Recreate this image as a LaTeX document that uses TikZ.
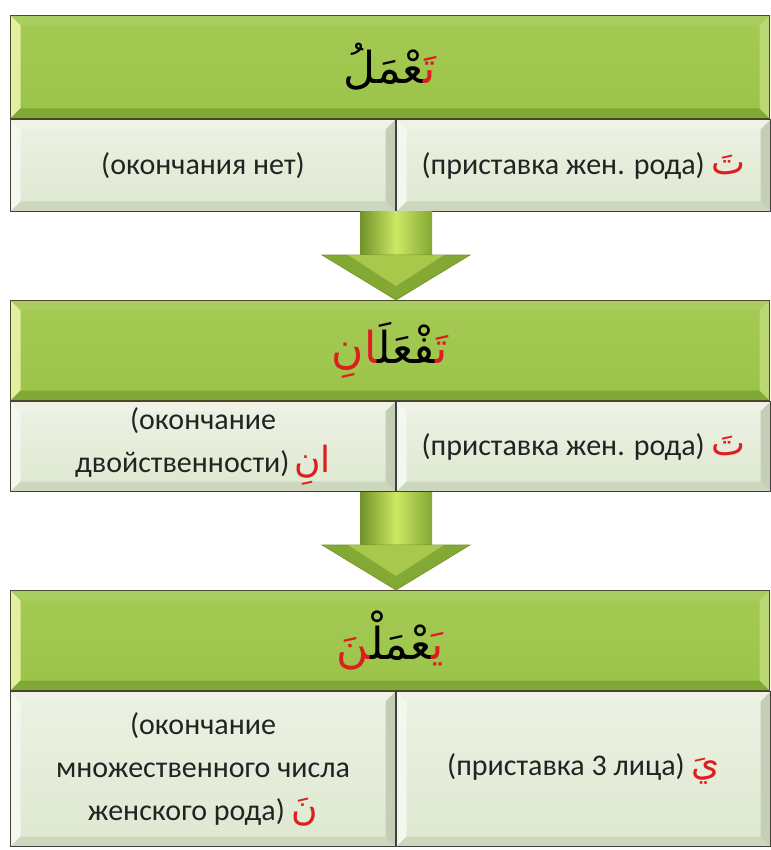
\documentclass[tikz,border=0pt]{standalone}
\usepackage{fontspec}
\setmainfont{Carlito}
\newfontfamily\arabicfont[Script=Arabic]{DejaVu Sans}
\usepackage{tikz}
\usetikzlibrary{calc}
\usetikzlibrary{positioning}
\definecolor{hdGreen}{RGB}{155,195,72}
\definecolor{hdGreenTop}{RGB}{165,202,85}
\definecolor{hdEdgeL}{RGB}{226,238,160}
\definecolor{hdEdgeT}{RGB}{170,205,95}
\definecolor{hdEdgeB}{RGB}{128,168,52}
\definecolor{hdEdgeR}{RGB}{185,215,115}
\definecolor{clFill}{RGB}{222,232,208}
\definecolor{clFillTop}{RGB}{236,242,228}
\definecolor{clEdgeL}{RGB}{244,247,238}
\definecolor{clEdgeT}{RGB}{238,243,230}
\definecolor{clEdgeB}{RGB}{205,215,190}
\definecolor{clEdgeR}{RGB}{196,206,182}
\definecolor{arGreen}{RGB}{132,168,52}
\definecolor{arGreenDk}{RGB}{112,146,40}
\definecolor{arGreenLt}{RGB}{205,232,100}
\definecolor{arRed}{RGB}{222,30,30}
\definecolor{txGray}{RGB}{35,35,35}
\newcommand{\headColor}{hdGreen}
\newcommand{\cellColor}{clFill}
\newcommand{\bevelW}{10}
\newcommand{\zwj}{^^^^200d}
\newcommand{\ar}[1]{{\arabicfont #1}}
\newcommand{\redar}[1]{{\arabicfont\color{arRed}#1}}
\newcommand{\redsm}[1]{{\arabicfont\fontsize{36}{43}\selectfont\color{arRed}#1}}
\tikzset{
    bevel/.style n args = {4}{path picture={
        \coordinate (pnw) at (path picture bounding box.north west);
        \coordinate (pse) at (path picture bounding box.south east);
        \coordinate (pne) at (pnw -| pse);
        \coordinate (psw) at (pnw |- pse);
        \fill[#1] (pnw) -- (pne) -- ($(pne)+(-\bevelW,\bevelW)$) -- ($(pnw)+(\bevelW,\bevelW)$) -- cycle;
        \fill[#2] (pnw) -- (psw) -- ($(psw)+(\bevelW,-\bevelW)$) -- ($(pnw)+(\bevelW,\bevelW)$) -- cycle;
        \fill[#3] (psw) -- (pse) -- ($(pse)+(-\bevelW,-\bevelW)$) -- ($(psw)+(\bevelW,-\bevelW)$) -- cycle;
        \fill[#4] (pne) -- (pse) -- ($(pse)+(-\bevelW,-\bevelW)$) -- ($(pne)+(-\bevelW,\bevelW)$) -- cycle;
    }},
    headbox/.style = {draw=black!60!olive, line width=1pt, top color=hdGreenTop, bottom color=\headColor,
        minimum width=759, minimum height=#1, inner sep=0pt, anchor=north west,
        font=\fontsize{44}{52}\selectfont, text=black,
        bevel={hdEdgeT}{hdEdgeL}{hdEdgeB}{hdEdgeR}},
    cellbox/.style 2 args = {draw=black!75, line width=1pt, top color=clFillTop, bottom color=\cellColor,
        minimum width=#1, minimum height=#2, inner sep=0pt, anchor=north west, align=center,
        bevel={clEdgeT}{clEdgeL}{clEdgeB}{clEdgeR}},
    shaft/.style = {left color=arGreenDk, right color=arGreen, middle color=arGreenLt},
    arrowhead/.style = {fill=arGreen, draw=arGreenDk, line width=0.6pt}
}
\begin{document}
\begin{tikzpicture}[x=1pt, y=-1pt, every node/.style={font=\fontsize{30}{43}\selectfont, text=txGray}]
    \useasboundingbox[fill=white] (0,0) rectangle (770,850);
    % three blocks, each a header over two cells
    \node[headbox=103] (head1) at (10,15) {\ar{\zwj عْمَلُ}\redar{تَ\zwj}};
    \node[cellbox={385}{92}] (end1) at (head1.south west) {(окончания нет)};
    \node[cellbox={374}{92}] (pre1) at (end1.north east) {(приставка жен. рода) \redsm{تَ}};

    \node[headbox=100] (head2) at (10,300) {\redar{\zwj انِ}\ar{\zwj فْعَلَ\zwj}\redar{تَ\zwj}};
    \node[cellbox={385}{90}] (end2) at (head2.south west) {(окончание\\двойственности)\,\redsm{انِ}};
    \node[cellbox={374}{90}] (pre2) at (end2.north east) {(приставка жен. рода) \redsm{تَ}};

    \node[headbox=100] (head3) at (10,590) {\redar{\zwj نَ}\ar{\zwj عْمَلْ\zwj}\redar{يَ\zwj}};
    \node[cellbox={385}{155}] (end3) at (head3.south west) {(окончание\\множественного числа\\женского рода) \redsm{نَ}};
    \node[cellbox={374}{155}] (pre3) at (end3.north east) {(приставка 3 лица) \redsm{يَ}};

    % arrows between the blocks
    \foreach \from/\to in {end1/head2, end2/head3} {
        \coordinate (tip) at (\from.south east |- \to.north);
        \path[shaft] ($(\from.south east)+(-36,0)$) rectangle ($(tip)+(36,-45)$);
        \path[arrowhead] ($(tip)+(-74,-45)$) -- ($(tip)+(74,-45)$) -- (tip) -- cycle;
        \fill[arGreenLt, opacity=.5] ($(tip)+(-48,-45)$) -- ($(tip)+(48,-45)$) -- ($(tip)+(0,-14)$) -- cycle;
    }
\end{tikzpicture}
\end{document}
